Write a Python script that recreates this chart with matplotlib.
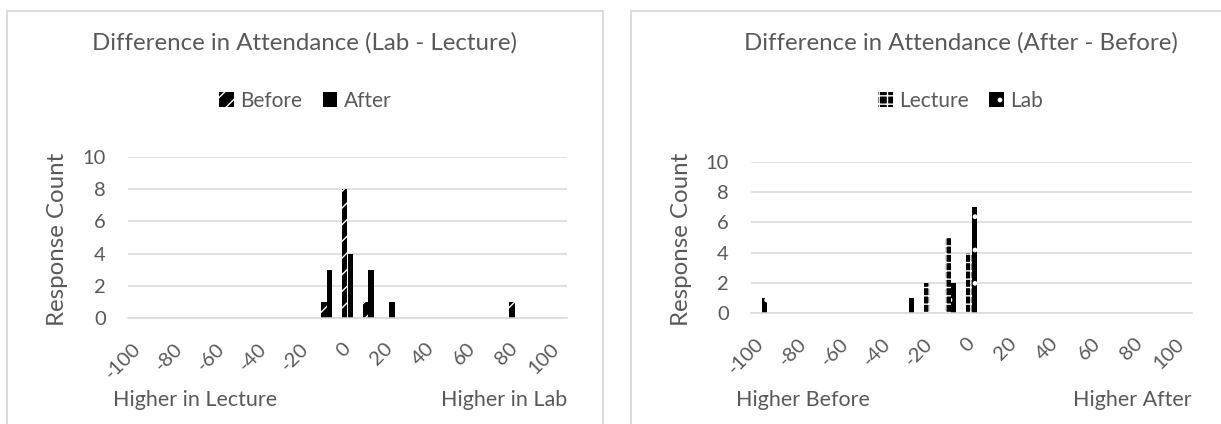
import matplotlib
matplotlib.use("Agg")
import matplotlib.pyplot as plt
from matplotlib.patches import Rectangle

plt.rcParams["font.family"] = ["Lato", "DejaVu Sans"]
plt.rcParams["hatch.color"] = "white"
plt.rcParams["hatch.linewidth"] = 1.0

# attendance difference categories (every 10 points)
categories = [-100, -90, -80, -70, -60, -50, -40, -30, -20, -10, 0,
              10, 20, 30, 40, 50, 60, 70, 80, 90, 100]
tick_labels = ["-100", "-80", "-60", "-40", "-20", "0", "20", "40", "60", "80", "100"]

# left chart: Lab - Lecture
before = [0, 0, 0, 0, 0, 0, 0, 0, 0, 1, 8, 1, 0, 0, 0, 0, 0, 0, 1, 0, 0]
after = [0, 0, 0, 0, 0, 0, 0, 0, 0, 3, 4, 3, 1, 0, 0, 0, 0, 0, 0, 0, 0]

# right chart: After - Before
lecture = [0, 0, 0, 0, 0, 0, 0, 0, 2, 5, 4, 0, 0, 0, 0, 0, 0, 0, 0, 0, 0]
lab = [1, 0, 0, 0, 0, 0, 0, 1, 0, 2, 7, 0, 0, 0, 0, 0, 0, 0, 0, 0, 0]

W, H = 1221, 424
TXT = "#595959"
GRID = "#D9D9D9"

fig = plt.figure(figsize=(W / 100, H / 100), dpi=100)


def fx(px):
    return px / W


def fy(py):
    return 1 - py / H


# chart borders
fig.patches.append(Rectangle((fx(7), fy(440)), fx(603 - 7), fy(11) - fy(440),
                             transform=fig.transFigure, fill=False,
                             edgecolor=GRID, lw=1.3))
fig.patches.append(Rectangle((fx(631), fy(440)), fx(1240 - 631), fy(11) - fy(440),
                             transform=fig.transFigure, fill=False,
                             edgecolor=GRID, lw=1.3))


def draw(box, s1, s2, names, hatches, title, lo_txt, hi_txt, panel):
    left, top, right, bottom = box
    ax = fig.add_axes([fx(left), fy(bottom), fx(right - left), fy(top) - fy(bottom)])
    x = list(range(len(categories)))
    w = 0.28
    b1 = ax.bar([i - w / 2 for i in x], s1, width=w, color="black",
                hatch=hatches[0], lw=0, label=names[0])
    b2 = ax.bar([i + w / 2 for i in x], s2, width=w, color="black",
                hatch=hatches[1], lw=0, label=names[1])
    ax.set_xlim(-0.5, len(categories) - 0.5)
    ax.set_ylim(0, 10)
    ax.set_yticks([0, 2, 4, 6, 8, 10])
    ax.yaxis.grid(True, color=GRID, lw=1.1)
    ax.set_axisbelow(True)
    for s in ["top", "right", "left"]:
        ax.spines[s].set_visible(False)
    ax.spines["bottom"].set_color(GRID)
    ax.spines["bottom"].set_linewidth(1.1)
    ax.set_xticks(x[::2])
    ax.set_xticklabels(tick_labels, rotation=45, ha="right", va="center",
                       rotation_mode="anchor")
    ax.tick_params(axis="x", length=0, pad=20, labelsize=14.5, labelcolor=TXT)
    ax.tick_params(axis="y", length=0, pad=16, labelsize=14.5, labelcolor=TXT)
    pl, pr = panel
    cx = (pl + pr) / 2
    fig.text(fx(cx), fy(43), title, ha="center", va="center", fontsize=17.3, color=TXT)
    fig.text(fx(left - 70), fy((top + bottom) / 2 + 2), "Response Count", rotation=90,
             ha="center", va="center", fontsize=17.3, color=TXT)
    fig.text(fx(left - 15), fy(400), lo_txt, ha="left", va="center", fontsize=15.5, color=TXT)
    fig.text(fx(right), fy(400), hi_txt, ha="right", va="center", fontsize=15.5, color=TXT)
    fig.legend(handles=[b1, b2], loc="center", bbox_to_anchor=(fx(cx), fy(101)),
               ncol=2, frameon=False, fontsize=15, labelcolor=TXT,
               handlelength=0.7, handleheight=0.7, handletextpad=0.3,
               columnspacing=1.0)
    return ax


draw((128, 157, 567, 318), before, after, ["Before", "After"], ["//", ""],
     "Difference in Attendance (Lab - Lecture)", "Higher in Lecture", "Higher in Lab",
     (7, 603))
draw((751, 162, 1192, 313), lecture, lab, ["Lecture", "Lab"], ["++", "."],
     "Difference in Attendance (After - Before)", "Higher Before", "Higher After",
     (631, 1290))

fig.savefig("out.png", dpi=100)
